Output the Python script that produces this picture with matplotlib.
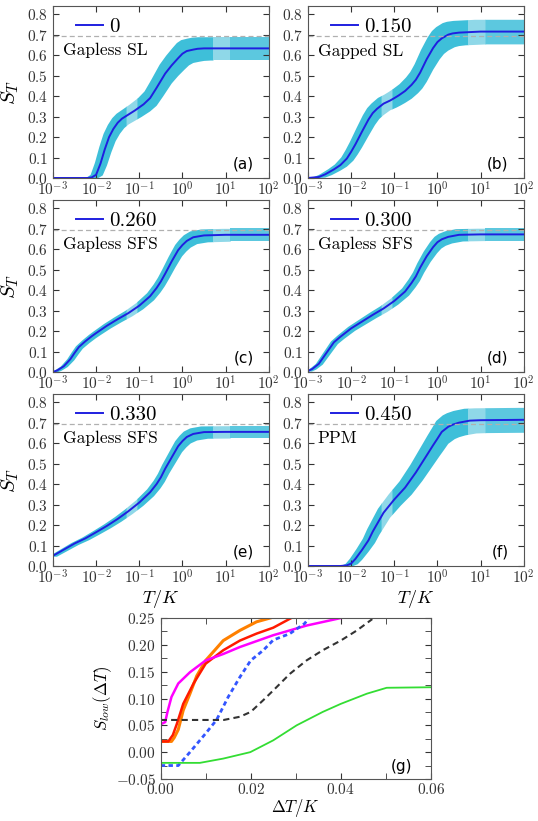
import numpy as np
import matplotlib
matplotlib.use("Agg")
import matplotlib.pyplot as plt
from matplotlib.ticker import MultipleLocator, FuncFormatter, LogLocator

plt.rcParams['font.family'] = 'cmr10'
plt.rcParams['mathtext.fontset'] = 'cm'
plt.rcParams['axes.formatter.use_mathtext'] = True
plt.rcParams['axes.unicode_minus'] = False

# ---- panels (a)-(f): entropy S_T vs T/K, x given as log10(T/K) ----
labels = ['0', '0.150', '0.260', '0.300', '0.330', '0.450']
phases = ['Gapless SL', 'Gapped SL', 'Gapless SFS', 'Gapless SFS', 'Gapless SFS', 'PPM']
letters = ['(a)', '(b)', '(c)', '(d)', '(e)', '(f)']

lgT_a = [-3, -2.5, -2.2, -2.1, -2.0, -1.9, -1.8, -1.7, -1.6, -1.5, -1.4, -1.25, -1.1, -1.0, -0.9,
         -0.75, -0.6, -0.5, -0.4, -0.25, -0.1, 0, 0.1, 0.25, 0.35, 0.5, 1, 2]
S_a = [0, 0, 0, 0.003, 0.016, 0.07, 0.14, 0.2, 0.24, 0.27, 0.29, 0.31, 0.33, 0.345, 0.36,
       0.39, 0.44, 0.475, 0.51, 0.55, 0.585, 0.607, 0.62, 0.627, 0.631, 0.633, 0.633, 0.633]

lgT_b = [-3, -2.75, -2.6, -2.5, -2.4, -2.25, -2.1, -2.0, -1.9, -1.75, -1.6, -1.5, -1.4, -1.25, -1.1,
         -1.0, -0.9, -0.75, -0.6, -0.5, -0.4, -0.25, -0.1, 0, 0.1, 0.25, 0.35, 0.5, 1, 2]
S_b = [0, 0.005, 0.018, 0.03, 0.042, 0.063, 0.095, 0.128, 0.165, 0.226, 0.285, 0.317, 0.338, 0.363, 0.378,
       0.39, 0.403, 0.425, 0.455, 0.48, 0.515, 0.58, 0.635, 0.664, 0.682, 0.70, 0.706, 0.71, 0.715, 0.715]

lgT_c = [-3, -2.9, -2.75, -2.6, -2.5, -2.4, -2.25, -2.1, -2.0, -1.75, -1.5, -1.25, -1.0, -0.75,
         -0.6, -0.5, -0.4, -0.25, -0.1, 0, 0.1, 0.25, 0.5, 1, 2]
S_c = [0.0, 0.008, 0.028, 0.062, 0.093, 0.122, 0.15, 0.175, 0.19, 0.226, 0.258, 0.288, 0.324, 0.37,
       0.41, 0.442, 0.48, 0.54, 0.595, 0.62, 0.64, 0.658, 0.667, 0.67, 0.67]

lgT_d = [-3, -2.9, -2.75, -2.6, -2.5, -2.4, -2.25, -2.0, -1.75, -1.5, -1.25, -1.0, -0.75,
         -0.6, -0.5, -0.4, -0.25, -0.1, 0, 0.1, 0.25, 0.5, 1, 2]
S_d = [0.005, 0.015, 0.04, 0.085, 0.115, 0.145, 0.172, 0.213, 0.246, 0.279, 0.31, 0.347, 0.393,
       0.435, 0.467, 0.51, 0.565, 0.61, 0.634, 0.648, 0.66, 0.67, 0.672, 0.672]

lgT_e = [-3, -2.75, -2.5, -2.25, -2.0, -1.75, -1.5, -1.25, -1.0, -0.75, -0.6, -0.5, -0.4,
         -0.25, -0.1, 0, 0.1, 0.25, 0.5, 1, 2]
S_e = [0.05, 0.08, 0.11, 0.135, 0.165, 0.196, 0.23, 0.268, 0.31, 0.36, 0.40, 0.433, 0.475,
       0.53, 0.585, 0.61, 0.63, 0.645, 0.654, 0.655, 0.655]

lgT_f = [-3, -2.5, -2.25, -2.1, -2.0, -1.9, -1.75, -1.6, -1.5, -1.25, -1.0, -0.75, -0.5, -0.25,
         -0.1, 0, 0.1, 0.25, 0.35, 0.5, 0.75, 1, 2]
S_f = [0, 0, 0.0, 0.003, 0.012, 0.035, 0.078, 0.125, 0.168, 0.26, 0.325, 0.383, 0.457, 0.54,
       0.59, 0.622, 0.655, 0.68, 0.69, 0.70, 0.71, 0.712, 0.714]

lgT_all = [lgT_a, lgT_b, lgT_c, lgT_d, lgT_e, lgT_f]
S_all = [S_a, S_b, S_c, S_d, S_e, S_f]
band_frac = [0.09, 0.084, 0.047, 0.045, 0.046, 0.085]   # vertical half-width / S
band_shift = [0.14, 0.14, 0.08, 0.08, 0.08, 0.14]       # horizontal half-width in decades

# ---- panel (g): S_low(dT) ----
g_orange_x = [0, 0.0024, 0.003, 0.0039, 0.005, 0.0065, 0.008, 0.01, 0.0139, 0.0176, 0.0213, 0.0243]
g_orange_y = [0.02, 0.02, 0.027, 0.042, 0.078, 0.109, 0.142, 0.171, 0.208, 0.227, 0.243, 0.25]
g_red_x = [0, 0.0017, 0.0027, 0.0036, 0.005, 0.0073, 0.01, 0.0139, 0.0176, 0.0213, 0.025, 0.029]
g_red_y = [0.02, 0.02, 0.032, 0.053, 0.09, 0.128, 0.165, 0.19, 0.208, 0.221, 0.232, 0.25]
g_mag_x = [0, 0, 0.001, 0.0015, 0.0024, 0.0039, 0.0065, 0.01, 0.0139, 0.0176, 0.025, 0.0324, 0.04]
g_mag_y = [0.038, 0.052, 0.056, 0.075, 0.103, 0.128, 0.149, 0.171, 0.183, 0.196, 0.218, 0.236, 0.25]
g_blue_x = [0, 0.0039, 0.0065, 0.01, 0.0124, 0.015, 0.0176, 0.02, 0.0228, 0.025, 0.0287, 0.032, 0.0328]
g_blue_y = [-0.025, -0.025, 0.0, 0.035, 0.06, 0.103, 0.14, 0.171, 0.19, 0.209, 0.221, 0.24, 0.249]
g_black_x = [0, 0.014, 0.0176, 0.02, 0.0228, 0.025, 0.0287, 0.0324, 0.036, 0.04, 0.0436, 0.047]
g_black_y = [0.06, 0.06, 0.066, 0.075, 0.097, 0.115, 0.146, 0.171, 0.19, 0.208, 0.227, 0.248]
g_green_x = [0, 0.0087, 0.0139, 0.0199, 0.025, 0.0302, 0.036, 0.04, 0.0458, 0.0502, 0.06]
g_green_y = [-0.02, -0.02, -0.012, 0.0, 0.022, 0.05, 0.075, 0.09, 0.109, 0.12, 0.121]

ln2 = np.log(2)

fig = plt.figure(figsize=(5.38, 8.21), dpi=100)

lefts = [0.0985, 0.5725]
bottoms = [0.7832, 0.5469, 0.3106]
w, h = 0.401, 0.2095

dark = '#3EBFD9'
light = '#8FD8E8'
mid = '#5CC8DF'
spine_col = '#555555'


def log_fmt(v, pos):
    return r'$10^{%d}$' % int(round(np.log10(v)))


for i in range(6):
    row, col = i // 2, i % 2
    ax = fig.add_axes([lefts[col], bottoms[row], w, h])
    lg = np.array(lgT_all[i], dtype=float)
    T = 10 ** lg
    S = np.array(S_all[i])
    # error band: uncertainty both in S and in T
    lgf = np.linspace(-3, 2, 500)
    Tf = 10 ** lgf
    k = band_shift[i]
    up = np.interp(lgf + k, lg, S) * (1 + band_frac[i])
    lo = np.interp(lgf - k, lg, S) * (1 - band_frac[i])
    seg = [(-3, -1.3, dark), (-1.3, -1.05, light), (-1.05, 0.7, dark), (0.7, 1.1, light), (1.1, 2, mid)]
    for a, b, c in seg:
        m = (lgf >= a - 0.011) & (lgf <= b + 0.011)
        ax.fill_between(Tf[m], lo[m], up[m], color=c, lw=0)
    ax.plot(T, S, color='#1f1fe0', lw=1.4, label=labels[i])
    ax.axhline(ln2, color='#b0b0b0', ls='--', lw=0.9, dashes=(4, 2.5))
    ax.set_xscale('log')
    ax.set_xlim(1e-3, 1e2)
    ax.set_ylim(0, 0.84)
    ax.yaxis.set_major_locator(MultipleLocator(0.1))
    ax.xaxis.set_major_locator(LogLocator(base=10, numticks=10))
    ax.xaxis.set_major_formatter(FuncFormatter(log_fmt))
    ax.tick_params(which='both', direction='in', top=True, right=True, labelsize=11, colors='#333333')
    ax.tick_params(which='major', length=4)
    ax.tick_params(which='minor', length=2)
    ax.tick_params(axis='x', pad=2)
    for s in ax.spines.values():
        s.set_color(spine_col)
    ax.legend(loc='upper left', bbox_to_anchor=(0.02, 1.04), frameon=False,
              fontsize=15, handlelength=1.3, handletextpad=0.3)
    ax.text(0.045, 0.74, phases[i], transform=ax.transAxes, fontsize=12.5, va='center')
    ax.text(0.93, 0.08, letters[i], transform=ax.transAxes, fontsize=11, ha='right',
            va='center', family='DejaVu Sans')
    if col == 0:
        ax.set_ylabel(r'$S_T$', fontsize=15, labelpad=4)
    if row == 2:
        ax.set_xlabel(r'$T/K$', fontsize=13, labelpad=1)

# ---- panel (g) ----
axg = fig.add_axes([0.2987, 0.0512, 0.502, 0.196])
axg.plot(g_orange_x, g_orange_y, color='#FF8000', lw=2.2)
axg.plot(g_red_x, g_red_y, color='#FF1A00', lw=1.8)
axg.plot(g_mag_x, g_mag_y, color='#FF00FF', lw=1.8)
axg.plot(g_blue_x, g_blue_y, color='#3355FF', lw=2.0, ls='--', dashes=(1.6, 1.2))
axg.plot(g_black_x, g_black_y, color='#333333', lw=1.5, ls='--', dashes=(3, 2))
axg.plot(g_green_x, g_green_y, color='#33DD33', lw=1.3)
axg.set_xlim(0, 0.06)
axg.set_ylim(-0.05, 0.25)
axg.xaxis.set_major_locator(MultipleLocator(0.02))
axg.xaxis.set_minor_locator(MultipleLocator(0.01))
axg.yaxis.set_major_locator(MultipleLocator(0.05))
axg.yaxis.set_minor_locator(MultipleLocator(0.025))
axg.xaxis.set_major_formatter(FuncFormatter(lambda v, p: r'$%.2f$' % v))
axg.yaxis.set_major_formatter(FuncFormatter(lambda v, p: r'$%.2f$' % v))
axg.tick_params(which='both', direction='in', top=True, right=True, labelsize=11, colors='#333333')
axg.tick_params(which='major', length=4)
axg.tick_params(which='minor', length=4)
axg.tick_params(axis='x', pad=2)
for s in axg.spines.values():
    s.set_color(spine_col)
axg.text(0.93, 0.08, '(g)', transform=axg.transAxes, fontsize=11, ha='right',
         va='center', family='DejaVu Sans')
axg.set_ylabel(r'$S_{low}(\Delta T)$', fontsize=12, labelpad=1)
axg.set_xlabel(r'$\Delta T/K$', fontsize=12, labelpad=0)

fig.savefig('out.png', dpi=100)
